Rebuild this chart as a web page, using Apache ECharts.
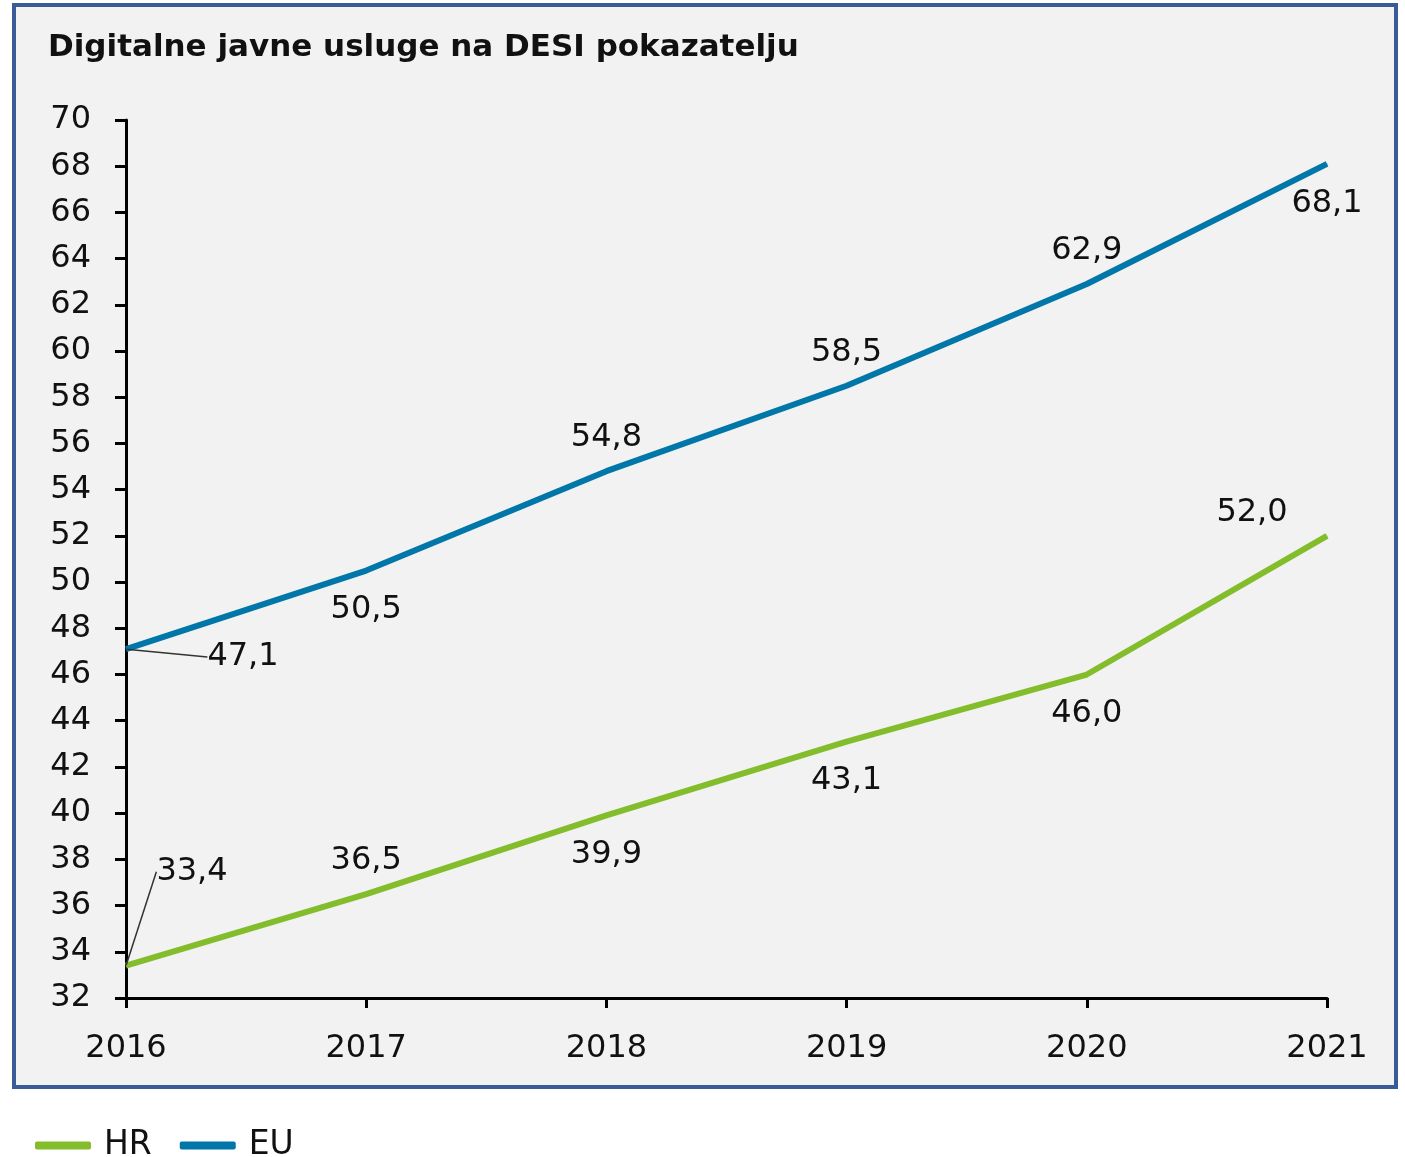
<!DOCTYPE html>
<html>
<head>
<meta charset="utf-8">
<script src="https://cdn.jsdelivr.net/npm/echarts@6/dist/echarts.min.js"></script>
<style>
html,body{margin:0;padding:0;background:#fff;}
#c{width:1405px;height:1157px;}
</style>
</head>
<body>
<div id="c"></div>
<script>
var years = ['2016','2017','2018','2019','2020','2021'];
var hrValues = [33.4, 36.5, 39.9, 43.1, 46.0, 52.0];
var euValues = [47.1, 50.5, 54.8, 58.5, 62.9, 68.1];
var titleText = 'Digitalne javne usluge na DESI pokazatelju';

var FONT = 'DejaVu Sans';
var hrPos = ['inside','top','bottom','bottom','bottom','top'];
var euPos = ['inside','bottom','top','top','top','bottom'];
var hrShift = {0:[66,-94], 5:[-75,10]};
var euShift = {0:[117,8]};

function fmt(p){ return Number(p.value).toFixed(1).replace('.', ','); }

function buildData(vals, pos){
  return vals.map(function(v,i){
    return {
      value:v,
      label:{position:pos[i], distance:(pos[i]==='bottom' ? 23 : 17)},
      labelLine:{show:i===0}
    };
  });
}

var chart = echarts.init(document.getElementById('c'));
chart.setOption({
  animation:false,
  backgroundColor:'#ffffff',
  graphic:[{
    type:'rect', z:-10, silent:true,
    shape:{x:14, y:5, width:1382, height:1082},
    style:{fill:'#f2f2f2', stroke:'#3b5a98', lineWidth:4}
  }],
  title:{
    text:titleText, left:43, top:27,
    textStyle:{fontFamily:FONT, fontWeight:'bold', fontSize:31, color:'#111'}
  },
  legend:{
    left:30, top:1124, itemWidth:56, itemHeight:8, itemGap:28,
    icon:'roundRect',
    textStyle:{fontFamily:FONT, fontSize:33, color:'#111', padding:[0,0,0,8]},
    data:['HR','EU']
  },
  grid:{left:126, right:78, top:120, bottom:159, containLabel:false},
  xAxis:{
    type:'category', data:years, boundaryGap:false,
    axisLine:{lineStyle:{color:'#000', width:3}},
    axisTick:{show:true, length:10, lineStyle:{color:'#000', width:3}, alignWithLabel:true},
    axisLabel:{fontFamily:FONT, fontSize:32, color:'#111', margin:35},
    splitLine:{show:false}
  },
  yAxis:{
    type:'value', min:32, max:70, interval:2,
    axisLine:{show:true, lineStyle:{color:'#000', width:3}},
    axisTick:{show:true, length:11, lineStyle:{color:'#000', width:3}},
    axisLabel:{fontFamily:FONT, fontSize:32, color:'#111', margin:35},
    splitLine:{show:false}
  },
  series:[
    {
      name:'HR', type:'line', data:buildData(hrValues, hrPos),
      color:'#84bd2b',
      lineStyle:{width:6, color:'#84bd2b'},
      showSymbol:true, symbol:'circle', symbolSize:1,
      itemStyle:{color:'#84bd2b'},
      label:{show:true, formatter:fmt, fontFamily:FONT, fontSize:32, color:'#111'},
      labelLine:{show:false, lineStyle:{color:'#333', width:1.5}},
      labelLayout:function(p){
        var s = hrShift[p.dataIndex];
        return s ? {dx:s[0], dy:s[1]} : {};
      }
    },
    {
      name:'EU', type:'line', data:buildData(euValues, euPos),
      color:'#0076a9',
      lineStyle:{width:6, color:'#0076a9'},
      showSymbol:true, symbol:'circle', symbolSize:1,
      itemStyle:{color:'#0076a9'},
      label:{show:true, formatter:fmt, fontFamily:FONT, fontSize:32, color:'#111'},
      labelLine:{show:false, lineStyle:{color:'#333', width:1.5}},
      labelLayout:function(p){
        var s = euShift[p.dataIndex];
        return s ? {dx:s[0], dy:s[1]} : {};
      }
    }
  ]
});
</script>
</body>
</html>
